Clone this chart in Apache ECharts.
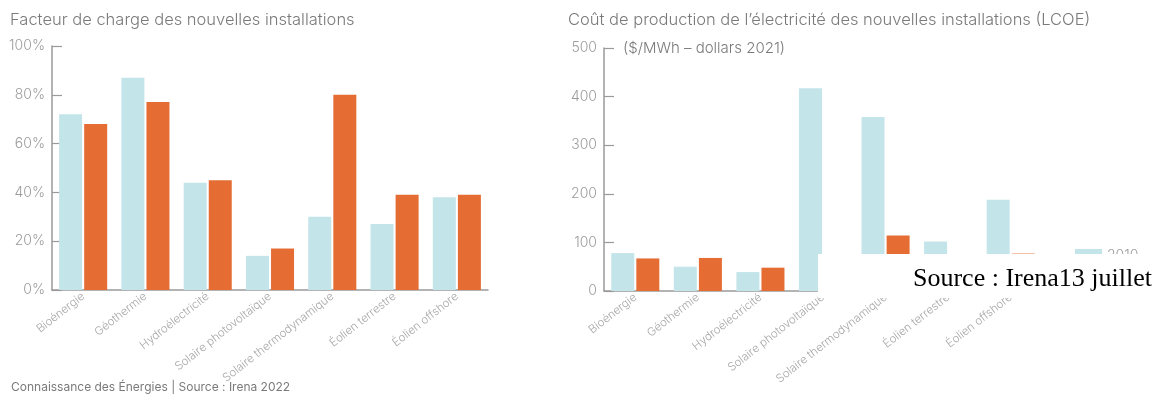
<!DOCTYPE html>
<html>
<head>
<meta charset="utf-8">
<script src="https://cdn.jsdelivr.net/npm/echarts@6/dist/echarts.min.js"></script>
<style>
html,body{margin:0;padding:0;background:#fff;}
#c{width:1162px;height:394px;}
</style>
</head>
<body>
<div id="c"></div>
<script>
const categories = ['Bioénergie','Géothermie','Hydroélectricité','Solaire photovoltaïque','Solaire thermodynamique','Éolien terrestre','Éolien offshore'];
const facteur2010 = [72, 87, 44, 14, 30, 27, 38];
const facteur2021 = [68, 77, 45, 17, 80, 39, 39];
const lcoe2010 = [78, 50, 39, 417, 358, 102, 188];
const lcoe2021 = [67, 68, 48, 48, 114, 33, 77];
const seriesNames = ['2010', '2021'];
const titleLeft = 'Facteur de charge des nouvelles installations';
const titleRight = 'Coût de production de l’électricité des nouvelles installations (LCOE)';
const unitRight = '($/MWh – dollars 2021)';
const footer = 'Connaissance des Énergies | Source : Irena 2022';
const overlayText = 'Source : Irena13 juillet';

const BLUE = '#c3e5ea', ORANGE = '#e56c33';
const AX = '#9a9a9a', LBL = '#9c9c9c', TXT = '#7a7a7a';
const FONT = 'Inter, Lato, sans-serif';

const chart = echarts.init(document.getElementById('c'), null, {renderer: 'canvas'});

function xAxis(gi) {
  return {
    type: 'category', gridIndex: gi, data: categories,
    axisLine: {lineStyle: {color: AX, width: 1.5}},
    axisTick: {inside: true, length: 6, lineStyle: {color: AX, width: 1.2}},
    axisLabel: {rotate: 38, fontSize: 11.5, color: '#a8a8a8', fontFamily: FONT, fontWeight: 300, margin: 5, interval: 0}
  };
}
function yAxis(gi, max, fmt) {
  return {
    type: 'value', gridIndex: gi, min: 0, max: max, interval: max / 5,
    axisLine: {show: true, lineStyle: {color: AX, width: 1.5}},
    axisTick: {show: true, inside: true, length: 10, lineStyle: {color: AX, width: 1.2}},
    splitLine: {show: false},
    axisLabel: {formatter: fmt, fontSize: 14, color: LBL, fontFamily: FONT, fontWeight: 300, margin: 7}
  };
}
function bar(name, data, color, xi) {
  return {
    name: name, type: 'bar', xAxisIndex: xi, yAxisIndex: xi, data: data,
    barWidth: 23, barGap: '9%',
    itemStyle: {color: color}
  };
}

chart.setOption({
  animation: false,
  backgroundColor: '#fff',
  title: [
    {text: titleLeft, left: 5, top: 7, textStyle: {fontSize: 16.5, fontWeight: 300, color: TXT, fontFamily: FONT}},
    {text: titleRight, left: 563, top: 7, textStyle: {fontSize: 16.5, fontWeight: 300, color: TXT, fontFamily: FONT}},
    {text: unitRight, left: 618, top: 36, textStyle: {fontSize: 15, fontWeight: 300, color: TXT, fontFamily: FONT}},
    {text: footer, left: 6, top: 376, textStyle: {fontSize: 12, fontWeight: 400, color: TXT, fontFamily: FONT}}
  ],
  legend: {
    data: seriesNames, orient: 'vertical', left: 1070, top: 244,
    itemWidth: 27, itemHeight: 14, itemGap: 8, icon: 'rect',
    textStyle: {fontSize: 14, color: LBL, fontFamily: FONT, fontWeight: 300}
  },
  grid: [
    {left: 52, top: 46, width: 436, height: 244},
    {left: 604, top: 48, width: 438, height: 243}
  ],
  xAxis: [xAxis(0), xAxis(1)],
  yAxis: [yAxis(0, 100, '{value}%'), yAxis(1, 500, '{value}')],
  series: [
    bar(seriesNames[0], facteur2010, BLUE, 0),
    bar(seriesNames[1], facteur2021, ORANGE, 0),
    bar(seriesNames[0], lcoe2010, BLUE, 1),
    bar(seriesNames[1], lcoe2021, ORANGE, 1)
  ],
  graphic: [
    {type: 'rect', left: 818, top: 254, z: 100, shape: {width: 344, height: 44}, style: {fill: '#ffffff'}},
    {type: 'text', left: 913, top: 266, z: 101, style: {text: overlayText, fill: '#000', font: '26px "Liberation Serif", "DejaVu Serif", serif'}}
  ]
});
</script>
</body>
</html>
